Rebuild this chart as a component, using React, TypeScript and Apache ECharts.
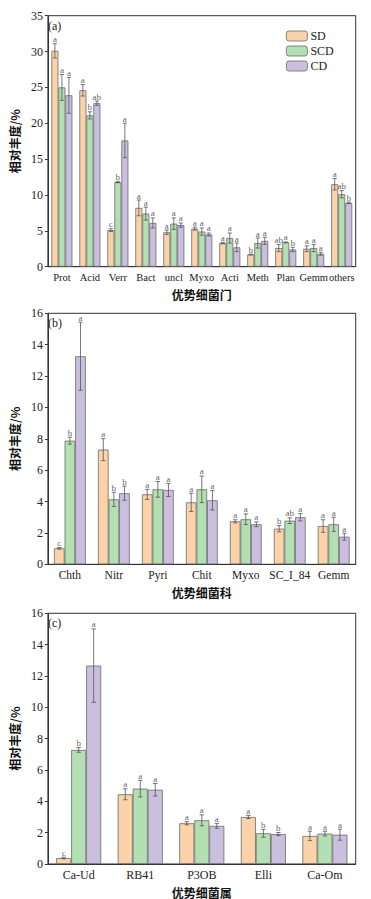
import React, { useEffect, useRef } from "react";
import * as echarts from "echarts";

const groups = ["SD", "SCD", "CD"];
const colors = ["#FCD2A8", "#B3E0B3", "#CBBFE0"];

const cats1 = ["Prot", "Acid", "Verr", "Bact", "uncl", "Myxo", "Acti", "Meth", "Plan", "Gemm", "others"];
const sd1 = [30.1, 24.6, 5.1, 8.2, 4.8, 5.3, 3.3, 1.7, 2.6, 2.5, 11.5];
const scd1 = [25.0, 21.1, 11.8, 7.4, 6.0, 4.9, 4.0, 3.3, 3.4, 2.6, 10.1];
const cd1 = [23.9, 22.8, 17.6, 6.1, 5.8, 4.5, 2.7, 3.6, 2.4, 1.8, 8.9];
const sdErr1 = [1.0, 0.8, 0.2, 1.1, 0.3, 0.2, 0.1, 0.05, 0.5, 0.4, 0.8];
const scdErr1 = [1.8, 0.5, 0.1, 0.9, 0.8, 0.5, 0.7, 0.7, 0.05, 0.5, 0.5];
const cdErr1 = [2.5, 0.3, 2.4, 0.7, 0.3, 0.2, 0.6, 0.5, 0.3, 0.2, 0.1];
const sdLet1 = ["a", "a", "c", "a", "a", "a", "a", "b", "ab", "a", "a"];
const scdLet1 = ["a", "b", "b", "a", "a", "a", "a", "a", "a", "a", "ab"];
const cdLet1 = ["a", "ab", "a", "a", "a", "a", "a", "a", "b", "a", "b"];

const cats2 = ["Chth", "Nitr", "Pyri", "Chit", "Myxo", "SC_I_84", "Gemm"];
const sd2 = [1.02, 7.31, 4.46, 3.95, 2.74, 2.27, 2.44];
const scd2 = [7.88, 4.14, 4.78, 4.78, 2.87, 2.78, 2.55];
const cd2 = [13.26, 4.53, 4.74, 4.08, 2.55, 3.0, 1.76];
const sdErr2 = [0.05, 0.7, 0.32, 0.58, 0.1, 0.2, 0.4];
const scdErr2 = [0.22, 0.45, 0.5, 0.85, 0.34, 0.18, 0.45];
const cdErr2 = [2.17, 0.45, 0.42, 0.62, 0.15, 0.23, 0.22];
const sdLet2 = ["c", "a", "a", "a", "a", "b", "a"];
const scdLet2 = ["b", "b", "a", "a", "a", "ab", "a"];
const cdLet2 = ["a", "b", "a", "a", "a", "a", "a"];

const cats3 = ["Ca-Ud", "RB41", "P3OB", "Elli", "Ca-Om"];
const sd3 = [0.38, 4.45, 2.6, 3.0, 1.79];
const scd3 = [7.28, 4.81, 2.79, 1.96, 1.94];
const cd3 = [12.66, 4.74, 2.43, 1.91, 1.87];
const sdErr3 = [0.05, 0.35, 0.1, 0.1, 0.3];
const scdErr3 = [0.15, 0.53, 0.35, 0.25, 0.15];
const cdErr3 = [2.34, 0.4, 0.15, 0.1, 0.35];
const sdLet3 = ["c", "a", "a", "a", "a"];
const scdLet3 = ["b", "a", "a", "b", "a"];
const cdLet3 = ["a", "a", "a", "b", "a"];

const yMax = [35, 16, 16];
const yInterval = [5, 2, 2];
const xNames = ["优势细菌门", "优势细菌科", "优势细菌属"];
const panelTags = ["(a)", "(b)", "(c)"];

const panels = [
  { cats: cats1, vals: [sd1, scd1, cd1], errs: [sdErr1, scdErr1, cdErr1], lets: [sdLet1, scdLet1, cdLet1] },
  { cats: cats2, vals: [sd2, scd2, cd2], errs: [sdErr2, scdErr2, cdErr2], lets: [sdLet2, scdLet2, cdLet2] },
  { cats: cats3, vals: [sd3, scd3, cd3], errs: [sdErr3, scdErr3, cdErr3], lets: [sdLet3, scdLet3, cdLet3] },
];

const serif = "Liberation Serif, Times New Roman, serif";
const cjk = "Noto Sans CJK SC, sans-serif";

export default function App() {
  const ref = useRef<HTMLDivElement>(null);
  useEffect(() => {
    document.body.style.margin = "0";
    if (!ref.current) return;
    const chart = echarts.init(ref.current, null, { renderer: "svg" });
    const gridTops = [15.7, 313.3, 613.3];
    const barWidths = [7, 10.6, 15];
    const xFont = [10.5, 11.5, 12];
    const grids: any[] = [];
    const xAxes: any[] = [];
    const yAxes: any[] = [];
    const series: any[] = [];
    panels.forEach((p, pi) => {
      grids.push({
        left: 43,
        right: 15.3,
        top: gridTops[pi],
        height: 251,
        show: true,
        borderColor: "#333",
        borderWidth: 1,
        backgroundColor: "transparent",
      });
      xAxes.push({
        type: "category",
        gridIndex: pi,
        data: p.cats,
        name: xNames[pi],
        nameLocation: "middle",
        nameGap: 22,
        nameTextStyle: { fontFamily: cjk, fontSize: 12, color: "#111", fontWeight: "bold" },
        axisLine: { lineStyle: { color: "#333", width: 1 } },
        axisTick: { show: false },
        axisLabel: { fontFamily: serif, fontSize: xFont[pi], color: "#222", margin: 5, interval: 0 },
      });
      yAxes.push({
        type: "value",
        gridIndex: pi,
        min: 0,
        max: yMax[pi],
        interval: yInterval[pi],
        name: "相对丰度/%",
        nameLocation: "middle",
        nameGap: 21,
        nameTextStyle: { fontFamily: cjk, fontSize: 12, color: "#111", fontWeight: "bold" },
        splitLine: { show: false },
        axisLine: { show: true, lineStyle: { color: "#333", width: 1 } },
        axisTick: { show: true, length: 3, lineStyle: { color: "#333" } },
        axisLabel: { fontFamily: serif, fontSize: 12, color: "#222", margin: 5 },
      });
      const bw = barWidths[pi];
      groups.forEach((g, gi) => {
        series.push({
          type: "bar",
          name: g,
          xAxisIndex: pi,
          yAxisIndex: pi,
          data: p.vals[gi],
          barWidth: bw,
          barGap: "0%",
          itemStyle: { color: colors[gi], borderColor: "#6a6a6a", borderWidth: 0.8 },
        });
      });
      groups.forEach((g, gi) => {
        const data = p.vals[gi].map((v, i) => [i, v, p.errs[gi][i]]);
        series.push({
          type: "custom",
          name: g + "_err",
          xAxisIndex: pi,
          yAxisIndex: pi,
          data,
          z: 5,
          silent: true,
          itemStyle: { color: "#333" },
          renderItem: (params: any, api: any) => {
            const idx = api.value(0);
            const v = api.value(1);
            const e = api.value(2);
            const c = api.coord([idx, v]);
            const x = c[0] + (gi - 1) * bw;
            const yt = api.coord([idx, v + e])[1];
            const yb = api.coord([idx, Math.max(0, v - e)])[1];
            const cap = Math.min(2.2, bw * 0.3);
            const st = { stroke: "#555", lineWidth: 0.8, fill: "none" };
            return {
              type: "group",
              children: [
                { type: "line", shape: { x1: x, y1: yt, x2: x, y2: yb }, style: st },
                { type: "line", shape: { x1: x - cap, y1: yt, x2: x + cap, y2: yt }, style: st },
                { type: "line", shape: { x1: x - cap, y1: yb, x2: x + cap, y2: yb }, style: st },
              ],
            };
          },
        });
        // significance letters above error bars
        series.push({
          type: "scatter",
          name: g + "_sig",
          xAxisIndex: pi,
          yAxisIndex: pi,
          symbolSize: 0,
          silent: true,
          z: 6,
          itemStyle: { color: "#333" },
          data: p.vals[gi].map((v, i) => ({ value: [i, v + p.errs[gi][i]], letter: p.lets[gi][i] })),
          label: {
            show: true,
            position: "top",
            distance: 0,
            offset: [(gi - 1) * bw, 0],
            color: "#333",
            fontFamily: serif,
            fontSize: 9,
            formatter: (d: any) => d.data.letter,
          },
        });
      });
    });
    chart.setOption({
      animation: false,
      backgroundColor: "#fff",
      grid: grids,
      xAxis: xAxes,
      yAxis: yAxes,
      series,
      legend: {
        data: groups,
        orient: "vertical",
        left: 286,
        top: 30,
        itemWidth: 21,
        itemHeight: 10,
        itemGap: 3,
        textStyle: { fontFamily: serif, fontSize: 12, color: "#222", padding: [0, 0, 0, -2] },
        itemStyle: { borderColor: "#6a6a6a", borderWidth: 0.8 },
        padding: 0,
      },
      graphic: panelTags.map((t, i) => ({
        type: "text",
        left: 48,
        top: gridTops[i] + 4,
        style: { text: t, fontFamily: serif, fontSize: 12, fill: "#222" },
      })),
    });
    return () => chart.dispose();
  }, []);
  return <div ref={ref} style={{ width: 371, height: 899 }} />;
}
